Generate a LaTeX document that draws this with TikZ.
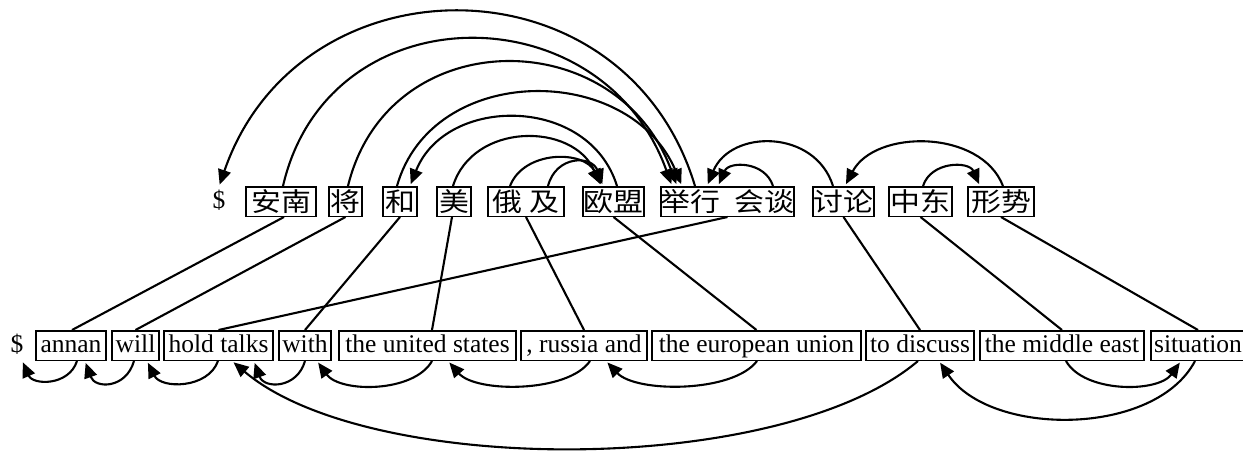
\documentclass[tikz,border=0pt]{standalone}
\usepackage{fontspec}
\setmainfont{Liberation Serif}
\newfontfamily\cjkfont{Noto Sans CJK SC}
\usetikzlibrary{arrows.meta}
% Chinese words, slightly widened
\newcommand\zhw[1]{\scalebox{1.15}[1]{#1}}
\tikzset{
  wbox/.style={draw, line width=1.5pt, inner sep=0pt, minimum height=29.5pt},
  plainw/.style={inner sep=0pt, minimum height=29.5pt},
  en/.style={font=\fontsize{25.5}{28}\selectfont, text height=20pt, text depth=6pt},
  zh/.style={font=\fontsize{26}{28}\cjkfont},
  dep/.style={line width=2.1pt, -{Triangle[length=15pt,width=13pt]}, shorten >=2pt},
  link/.style={line width=2.1pt},
}
\begin{document}
\begin{tikzpicture}[x=1pt, y=-1pt]
\useasboundingbox (0,0) rectangle (1243,451);

% Chinese sentence
\node[plainw,en] (td) at (219,201.5) {\$};
\node[wbox,zh,minimum width=70pt]  (t1)  at (281,201.5)   {\zhw{安南}};
\node[wbox,zh,minimum width=33pt]  (t2)  at (345.5,201.5) {\zhw{将}};
\node[wbox,zh,minimum width=34pt]  (t3)  at (400,201.5)   {\zhw{和}};
\node[wbox,zh,minimum width=34pt]  (t4)  at (454,201.5)   {\zhw{美}};
\node[wbox,zh,minimum width=76pt]  (t5)  at (526,201.5)   {\zhw{俄\hspace{6pt}及}};
\node[wbox,zh,minimum width=61pt]  (t6)  at (613.5,201.5) {\zhw{欧盟}};
\node[wbox,zh,minimum width=129pt] (t7)  at (727.5,201.5) {\zhw{举行\hspace{12pt}会谈}};
\node[wbox,zh,minimum width=61pt]  (t8)  at (843.5,201.5) {\zhw{讨论}};
\node[wbox,zh,minimum width=63pt]  (t9)  at (920.5,201.5) {\zhw{中东}};
\node[wbox,zh,minimum width=66pt]  (t10) at (1001,201.5)  {\zhw{形势}};

% English sentence
\node[plainw,en] (bd) at (17,345.5) {\$};
\node[wbox,en,minimum width=70pt]  (b1)  at (71,345.5)    {annan};
\node[wbox,en,minimum width=47pt]  (b2)  at (135.5,345.5) {will};
\node[wbox,en,minimum width=109pt] (b3)  at (218.5,345.5) {hold talks};
\node[wbox,en,minimum width=52pt]  (b4)  at (305,345.5)   {with};
\node[wbox,en,minimum width=177pt] (b5)  at (427.5,345.5) {the united states};
\node[wbox,en,minimum width=126pt] (b6)  at (584,345.5)   {, russia and};
\node[wbox,en,minimum width=209pt] (b7)  at (756.5,345.5) {the european union};
\node[wbox,en,minimum width=108pt] (b8)  at (920,345.5)   {to discuss};
\node[wbox,en,minimum width=164pt] (b9)  at (1062,345.5)  {the middle east};
\node[wbox,en,minimum width=94pt]  (b10) at (1198,345.5)  {situation};

% word alignment
\draw[link] ([xshift=3pt]t1.south) -- ([xshift=1pt]b1.north);
\draw[link] (t2.south) -- (b2.north);
\draw[link] (t7.south) -- (b3.north);
\draw[link] (t3.south) -- (b4.north);
\draw[link] ([xshift=-2pt]t4.south) -- ([xshift=4.5pt]b5.north);
\draw[link] (t5.south) -- (b6.north);
\draw[link] (t6.south) -- (b7.north);
\draw[link] (t8.south) -- (b8.north);
\draw[link] (t9.south) -- (b9.north);
\draw[link] (t10.south) -- (b10.north);

% dependencies above the Chinese sentence
\draw[dep] ([xshift=-32.5pt]t7.north) .. controls +(-70,-232) and +(80,-232) .. (td.north);
\draw[dep] ([xshift=2pt]t1.north) .. controls +(45,-195) and +(-70,-195) .. ([xshift=-55.5pt]t7.north);
\draw[dep] ([xshift=2.5pt]t2.north) .. controls +(40,-164) and +(-60,-164) .. ([xshift=-50.5pt]t7.north);
\draw[dep] ([xshift=-3pt]t3.north) .. controls +(35,-124) and +(-52,-124) .. ([xshift=-45.5pt]t7.north);
\draw[dep] ([xshift=3.5pt]t6.north) .. controls +(-28,-91) and +(36,-91) .. ([xshift=10pt]t3.north);
\draw[dep] ([xshift=-1pt]t4.north) .. controls +(20,-64) and +(-28,-64) .. ([xshift=-12.5pt]t6.north);
\draw[dep] ([xshift=-16pt]t5.north) .. controls +(14,-36) and +(-18,-36) .. ([xshift=-11.5pt]t6.north);
\draw[dep] ([xshift=22pt]t5.north) .. controls +(8,-31) and +(-11,-31) .. ([xshift=-10.5pt]t6.north);
\draw[dep] ([xshift=-10.5pt]t8.north) .. controls +(-18,-57) and +(24,-57) .. ([xshift=-20.5pt]t7.north);
\draw[dep] ([xshift=45.5pt]t7.north) .. controls +(-8,-25) and +(11,-25) .. ([xshift=-9.5pt]t7.north);
\draw[dep] ([xshift=2pt]t10.north) .. controls +(-22,-57) and +(30,-57) .. ([xshift=1.5pt]t8.north);
\draw[dep] ([xshift=2.5pt]t9.north) .. controls +(8,-25) and +(-11,-25) .. ([xshift=-21pt]t10.north);

% dependencies below the English sentence
\draw[dep] ([xshift=6pt]b1.south) .. controls +(-8,25) and +(11,25) .. ([xshift=5pt]bd.south);
\draw[dep] ([xshift=-1.5pt]b2.south) .. controls +(-8,28) and +(10,28) .. ([xshift=14pt]b1.south);
\draw[dep] ([xshift=-0.5pt]b3.south) .. controls +(-10,28) and +(14,28) .. ([xshift=11.5pt]b2.south);
\draw[dep] (b4.south) .. controls +(-8,28) and +(10,28) .. ([xshift=35.5pt]b3.south);
\draw[dep] ([xshift=4.5pt]b5.south) .. controls +(-18,32) and +(23,32) .. ([xshift=12pt]b4.south);
\draw[dep] ([xshift=6pt]b6.south) .. controls +(-22,32) and +(28,32) .. ([xshift=20.5pt]b5.south);
\draw[dep] ([xshift=0.5pt]b7.south) .. controls +(-24,32) and +(30,32) .. ([xshift=22pt]b6.south);
\draw[dep] ([xshift=-2pt]b8.south) .. controls +(-137,116) and +(137,116) .. ([xshift=13.5pt]b3.south);
\draw[dep] ([xshift=-3pt]b10.south) .. controls +(-40,76) and +(51,76) .. ([xshift=19pt]b8.south);
\draw[dep] ([xshift=4pt]b9.south) .. controls +(18,32) and +(-23,32) .. ([xshift=-17pt]b10.south);
\end{tikzpicture}
\end{document}
